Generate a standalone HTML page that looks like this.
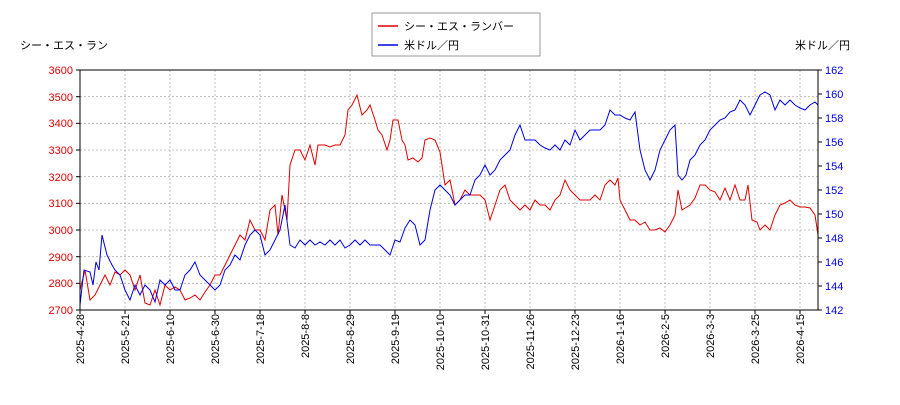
<!DOCTYPE html>
<html><head><meta charset="utf-8"><style>
body{margin:0;background:#fff;}
svg text{font-family:"Liberation Sans","Noto Sans CJK JP",sans-serif;font-size:11px;fill:#000;}
</style></head><body>
<svg width="900" height="400" xmlns="http://www.w3.org/2000/svg">
<rect width="900" height="400" fill="#fff"/>
<!-- grid -->
<g stroke="#b0b0b0" stroke-width="0.8" stroke-dasharray="2,2">
<line x1="80" y1="96.7" x2="818" y2="96.7"/><line x1="80" y1="123.3" x2="818" y2="123.3"/>
<line x1="80" y1="150" x2="818" y2="150"/><line x1="80" y1="176.7" x2="818" y2="176.7"/>
<line x1="80" y1="203.3" x2="818" y2="203.3"/><line x1="80" y1="230" x2="818" y2="230"/>
<line x1="80" y1="256.7" x2="818" y2="256.7"/><line x1="80" y1="283.3" x2="818" y2="283.3"/>
<line x1="125" y1="70" x2="125" y2="310"/><line x1="170" y1="70" x2="170" y2="310"/>
<line x1="215" y1="70" x2="215" y2="310"/><line x1="260" y1="70" x2="260" y2="310"/>
<line x1="305" y1="70" x2="305" y2="310"/><line x1="350" y1="70" x2="350" y2="310"/>
<line x1="395" y1="70" x2="395" y2="310"/><line x1="440" y1="70" x2="440" y2="310"/>
<line x1="485" y1="70" x2="485" y2="310"/><line x1="530" y1="70" x2="530" y2="310"/>
<line x1="575" y1="70" x2="575" y2="310"/><line x1="620" y1="70" x2="620" y2="310"/>
<line x1="665" y1="70" x2="665" y2="310"/><line x1="710" y1="70" x2="710" y2="310"/>
<line x1="755" y1="70" x2="755" y2="310"/><line x1="800" y1="70" x2="800" y2="310"/>
</g>
<polyline fill="none" stroke="#e00000" stroke-width="1" points="80,290 85,270 90,300 95,295 100,285 105,275 110,285 115,272 120,275 125,270 130,275 135,290 140,275 145,303 150,305 155,290 160,305 165,285 170,290 175,287 180,290 185,300 190,298 195,295 200,300 205,292 210,285 215,275 220,275 225,265 230,255 235,245 240,235 245,240 250,220 255,230 260,230 265,240 270,210 275,205 278,235 282,195 287,220 290,165 295,150 300,150 305,160 310,145 315,165 318,145 325,145 330,147 335,145 340,145 345,135 348,110 352,105 357,95 362,115 367,110 370,105 375,120 378,130 382,135 387,150 390,140 393,120 398,120 402,140 405,145 408,160 413,158 418,162 422,158 425,140 430,138 435,140 440,152 445,185 450,180 455,205 460,200 465,190 470,195 475,195 480,195 485,200 490,220 495,205 500,190 505,185 510,200 515,205 520,210 525,205 530,210 535,200 540,205 545,205 550,210 555,200 560,195 565,180 570,190 575,195 580,200 585,200 590,200 595,195 600,200 605,185 610,180 615,185 618,178 620,200 625,210 630,220 635,220 640,225 645,222 650,230 655,230 660,228 665,232 670,225 675,215 678,190 682,210 690,205 695,198 700,185 705,185 710,190 715,192 720,200 725,188 730,200 735,185 740,200 745,200 748,185 752,220 757,222 760,230 765,225 770,230 775,215 780,205 785,203 790,200 795,205 800,207 805,207 810,208 815,215 818,235"/>
<polyline fill="none" stroke="#0000e0" stroke-width="1" points="80,305 84,270 90,272 93,285 96,262 99,270 102,235 107,255 112,265 115,270 120,275 125,290 130,300 135,285 140,295 145,285 150,290 155,302 160,280 165,285 170,280 175,290 180,290 185,275 190,270 195,262 200,275 205,280 210,285 215,290 220,285 225,270 230,265 235,255 240,260 245,245 250,235 255,230 260,235 265,255 270,250 275,240 280,230 285,205 290,245 295,248 300,240 305,245 310,240 315,245 320,242 325,245 330,240 335,245 340,240 345,248 350,245 355,240 360,245 365,240 370,245 375,245 380,245 385,250 390,255 395,240 400,242 405,228 410,220 415,225 420,245 425,240 430,210 435,190 440,185 445,190 450,195 455,205 460,200 465,195 470,195 475,180 480,175 485,165 490,175 495,170 500,160 505,155 510,150 515,135 520,125 525,140 530,140 535,140 540,145 545,148 550,150 555,145 560,150 565,140 570,145 575,130 580,140 585,135 590,130 595,130 600,130 605,125 610,110 615,115 620,115 625,118 630,120 635,112 640,150 645,170 650,180 655,170 660,150 665,140 670,130 675,125 678,175 682,180 686,175 690,160 695,155 700,145 705,140 710,130 715,125 720,120 725,118 730,112 735,110 740,100 745,105 750,115 755,105 760,95 765,92 770,95 775,110 780,100 785,105 790,100 795,105 800,108 805,110 810,105 815,102 818,105"/>
<rect x="80" y="70" width="738" height="240" fill="none" stroke="#000" stroke-width="1"/>
<!-- left ticks -->
<g stroke="#000"><line x1="76" y1="70" x2="80" y2="70"/><line x1="76" y1="96.7" x2="80" y2="96.7"/><line x1="76" y1="123.3" x2="80" y2="123.3"/><line x1="76" y1="150" x2="80" y2="150"/><line x1="76" y1="176.7" x2="80" y2="176.7"/><line x1="76" y1="203.3" x2="80" y2="203.3"/><line x1="76" y1="230" x2="80" y2="230"/><line x1="76" y1="256.7" x2="80" y2="256.7"/><line x1="76" y1="283.3" x2="80" y2="283.3"/><line x1="76" y1="310" x2="80" y2="310"/>
<line x1="818" y1="70" x2="822" y2="70"/><line x1="818" y1="94" x2="822" y2="94"/><line x1="818" y1="118" x2="822" y2="118"/><line x1="818" y1="142" x2="822" y2="142"/><line x1="818" y1="166" x2="822" y2="166"/><line x1="818" y1="190" x2="822" y2="190"/><line x1="818" y1="214" x2="822" y2="214"/><line x1="818" y1="238" x2="822" y2="238"/><line x1="818" y1="262" x2="822" y2="262"/><line x1="818" y1="286" x2="822" y2="286"/><line x1="818" y1="310" x2="822" y2="310"/></g>
<g text-anchor="end">
<text x="73" y="74" fill="#e00000" style="fill:#e00000">3600</text><text x="73" y="101" style="fill:#e00000">3500</text><text x="73" y="127" style="fill:#e00000">3400</text><text x="73" y="154" style="fill:#e00000">3300</text><text x="73" y="181" style="fill:#e00000">3200</text><text x="73" y="207" style="fill:#e00000">3100</text><text x="73" y="234" style="fill:#e00000">3000</text><text x="73" y="261" style="fill:#e00000">2900</text><text x="73" y="287" style="fill:#e00000">2800</text><text x="73" y="314" style="fill:#e00000">2700</text></g>
<g text-anchor="start">
<text x="825" y="74" style="fill:#0000e0">162</text><text x="825" y="98" style="fill:#0000e0">160</text><text x="825" y="122" style="fill:#0000e0">158</text><text x="825" y="146" style="fill:#0000e0">156</text><text x="825" y="170" style="fill:#0000e0">154</text><text x="825" y="194" style="fill:#0000e0">152</text><text x="825" y="218" style="fill:#0000e0">150</text><text x="825" y="242" style="fill:#0000e0">148</text><text x="825" y="266" style="fill:#0000e0">146</text><text x="825" y="290" style="fill:#0000e0">144</text><text x="825" y="314" style="fill:#0000e0">142</text></g>
<!-- x labels -->
<g text-anchor="end" font-size="10">
<text transform="translate(84,314) rotate(-90)">2025-4-28</text>
<text transform="translate(129,314) rotate(-90)">2025-5-21</text>
<text transform="translate(174,314) rotate(-90)">2025-6-10</text>
<text transform="translate(219,314) rotate(-90)">2025-6-30</text>
<text transform="translate(264,314) rotate(-90)">2025-7-18</text>
<text transform="translate(309,314) rotate(-90)">2025-8-8</text>
<text transform="translate(354,314) rotate(-90)">2025-8-29</text>
<text transform="translate(399,314) rotate(-90)">2025-9-19</text>
<text transform="translate(444,314) rotate(-90)">2025-10-10</text>
<text transform="translate(489,314) rotate(-90)">2025-10-31</text>
<text transform="translate(534,314) rotate(-90)">2025-11-26</text>
<text transform="translate(579,314) rotate(-90)">2025-12-23</text>
<text transform="translate(624,314) rotate(-90)">2026-1-16</text>
<text transform="translate(669,314) rotate(-90)">2026-2-5</text>
<text transform="translate(714,314) rotate(-90)">2026-3-3</text>
<text transform="translate(759,314) rotate(-90)">2026-3-25</text>
<text transform="translate(804,314) rotate(-90)">2026-4-15</text></g>
<g stroke="#000"><line x1="80" y1="310" x2="80" y2="314"/><line x1="125" y1="310" x2="125" y2="314"/><line x1="170" y1="310" x2="170" y2="314"/><line x1="215" y1="310" x2="215" y2="314"/><line x1="260" y1="310" x2="260" y2="314"/><line x1="305" y1="310" x2="305" y2="314"/><line x1="350" y1="310" x2="350" y2="314"/><line x1="395" y1="310" x2="395" y2="314"/><line x1="440" y1="310" x2="440" y2="314"/><line x1="485" y1="310" x2="485" y2="314"/><line x1="530" y1="310" x2="530" y2="314"/><line x1="575" y1="310" x2="575" y2="314"/><line x1="620" y1="310" x2="620" y2="314"/><line x1="665" y1="310" x2="665" y2="314"/><line x1="710" y1="310" x2="710" y2="314"/><line x1="755" y1="310" x2="755" y2="314"/><line x1="800" y1="310" x2="800" y2="314"/></g>
<text x="20" y="49">シー・エス・ラン</text>
<text x="850" y="49" text-anchor="end">米ドル／円</text>
<!-- legend -->
<rect x="372" y="13" width="168" height="43" fill="#fff" stroke="#999"/>
<line x1="378" y1="26" x2="398" y2="26" stroke="#e00000" stroke-width="1.5"/>
<text x="404" y="30">シー・エス・ランバー</text>
<line x1="378" y1="45" x2="398" y2="45" stroke="#0000e0" stroke-width="1.5"/>
<text x="404" y="49">米ドル／円</text>
</svg>
</body></html>
